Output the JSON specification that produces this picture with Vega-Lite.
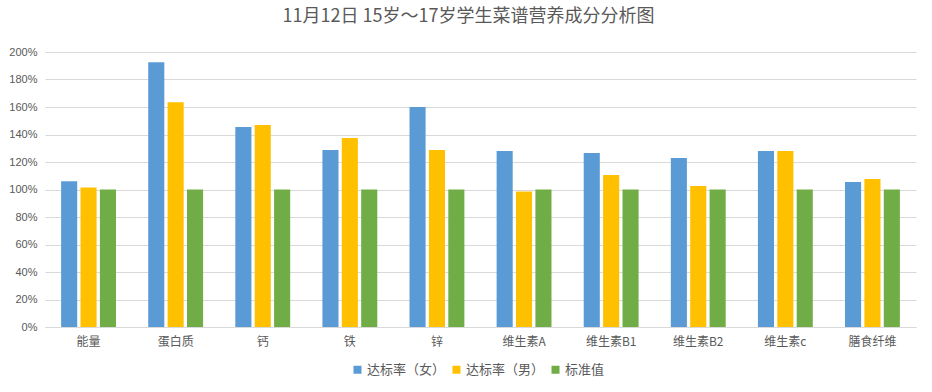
{
  "$schema": "https://vega.github.io/schema/vega-lite/v6.json",
  "width": 871,
  "height": 275,
  "autosize": {"type": "none"},
  "padding": {"left": 45, "top": 52, "right": 16, "bottom": 65},
  "background": "white",
  "title": {
    "text": "11月12日 15岁～17岁学生菜谱营养成分分析图",
    "font": "Noto Sans CJK SC",
    "fontSize": 18,
    "fontWeight": "normal",
    "color": "#595959",
    "anchor": "middle",
    "dx": -12,
    "offset": 20
  },
  "data": {
    "values": [
      {"category": "能量", "series": "达标率（女）", "value": 1.06},
      {"category": "能量", "series": "达标率（男）", "value": 1.015},
      {"category": "能量", "series": "标准值", "value": 1.0},
      {"category": "蛋白质", "series": "达标率（女）", "value": 1.925},
      {"category": "蛋白质", "series": "达标率（男）", "value": 1.635},
      {"category": "蛋白质", "series": "标准值", "value": 1.0},
      {"category": "钙", "series": "达标率（女）", "value": 1.455},
      {"category": "钙", "series": "达标率（男）", "value": 1.47},
      {"category": "钙", "series": "标准值", "value": 1.0},
      {"category": "铁", "series": "达标率（女）", "value": 1.288},
      {"category": "铁", "series": "达标率（男）", "value": 1.375},
      {"category": "铁", "series": "标准值", "value": 1.0},
      {"category": "锌", "series": "达标率（女）", "value": 1.6},
      {"category": "锌", "series": "达标率（男）", "value": 1.288},
      {"category": "锌", "series": "标准值", "value": 1.0},
      {"category": "维生素A", "series": "达标率（女）", "value": 1.28},
      {"category": "维生素A", "series": "达标率（男）", "value": 0.985},
      {"category": "维生素A", "series": "标准值", "value": 1.0},
      {"category": "维生素B1", "series": "达标率（女）", "value": 1.265},
      {"category": "维生素B1", "series": "达标率（男）", "value": 1.105},
      {"category": "维生素B1", "series": "标准值", "value": 1.0},
      {"category": "维生素B2", "series": "达标率（女）", "value": 1.23},
      {"category": "维生素B2", "series": "达标率（男）", "value": 1.025},
      {"category": "维生素B2", "series": "标准值", "value": 1.0},
      {"category": "维生素c", "series": "达标率（女）", "value": 1.28},
      {"category": "维生素c", "series": "达标率（男）", "value": 1.28},
      {"category": "维生素c", "series": "标准值", "value": 1.0},
      {"category": "膳食纤维", "series": "达标率（女）", "value": 1.055},
      {"category": "膳食纤维", "series": "达标率（男）", "value": 1.076},
      {"category": "膳食纤维", "series": "标准值", "value": 1.0}
    ]
  },
  "mark": {"type": "bar"},
  "encoding": {
    "x": {
      "field": "category",
      "type": "nominal",
      "sort": null,
      "scale": {"paddingInner": 0.37, "paddingOuter": 0.185},
      "axis": {
        "title": null,
        "labelAngle": 0,
        "labelFont": "Noto Sans CJK SC",
        "labelFontSize": 12,
        "labelColor": "#595959",
        "labelPadding": 9,
        "ticks": false,
        "domainColor": "#D9D9D9",
        "domainWidth": 1
      }
    },
    "xOffset": {
      "field": "series",
      "type": "nominal",
      "sort": ["达标率（女）", "达标率（男）", "标准值"],
      "scale": {"paddingInner": 0.17}
    },
    "y": {
      "field": "value",
      "type": "quantitative",
      "scale": {"domain": [0, 2], "nice": false},
      "axis": {
        "title": null,
        "format": ".0%",
        "values": [0, 0.2, 0.4, 0.6, 0.8, 1.0, 1.2, 1.4, 1.6, 1.8, 2.0],
        "labelFont": "Liberation Sans",
        "labelFontSize": 11,
        "labelColor": "#595959",
        "labelPadding": 8,
        "ticks": false,
        "domain": false,
        "gridColor": "#D9D9D9",
        "gridWidth": 1
      }
    },
    "color": {
      "field": "series",
      "type": "nominal",
      "sort": ["达标率（女）", "达标率（男）", "标准值"],
      "scale": {
        "domain": ["达标率（女）", "达标率（男）", "标准值"],
        "range": ["#5B9BD5", "#FFC000", "#70AD47"]
      },
      "legend": {
        "title": null,
        "orient": "none",
        "legendX": 306,
        "legendY": 311,
        "direction": "horizontal",
        "symbolType": "square",
        "symbolSize": 64,
        "symbolStrokeWidth": 0,
        "labelFont": "Noto Sans CJK SC",
        "labelFontSize": 13,
        "labelColor": "#595959",
        "columnPadding": 4,
        "labelOffset": 3
      }
    }
  },
  "config": {
    "view": {"stroke": null}
  }
}
